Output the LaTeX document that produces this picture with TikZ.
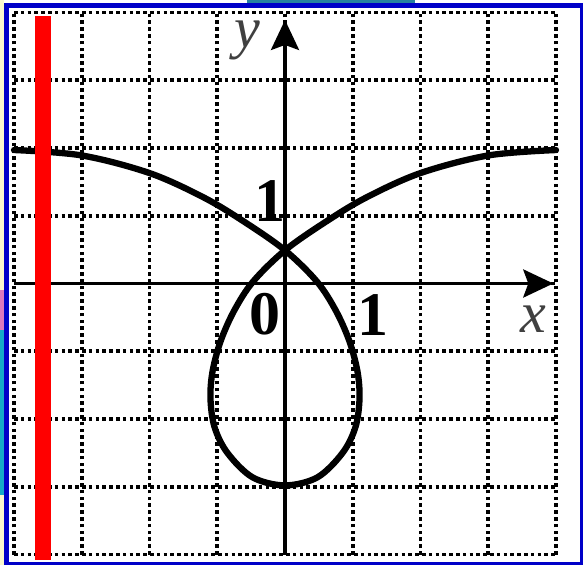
\documentclass[tikz,border=0pt]{standalone}
\usepackage{fontspec}
\setmainfont{Liberation Serif}
\usetikzlibrary{arrows.meta}
\definecolor{frameblue}{RGB}{0,0,200}
\definecolor{topteal}{RGB}{40,130,160}
\definecolor{paleyel}{RGB}{250,248,205}
\definecolor{pinkish}{RGB}{220,120,190}
\definecolor{cyanish}{RGB}{20,170,200}
\tikzset{
  gridline/.style={line width=3.6pt, dash pattern=on 3.6pt off 3.2pt},
  axisline/.style={line width=3.6pt, -{Stealth[length=30pt,width=28pt,inset=5pt]}},
  curveline/.style={line width=6.3pt, line join=round, line cap=round},
  digit/.style={inner sep=0pt, font=\fontsize{62}{62}\selectfont\bfseries},
  axlabel/.style={inner sep=0pt, text=black!75, font=\fontsize{58}{58}\selectfont\itshape}
}
\begin{document}
\begin{tikzpicture}[x=1pt,y=1pt]
\useasboundingbox (0,0) rectangle (583,565);
% outside strips
\fill[paleyel] (0,0) rectangle (4,565);
\fill[pinkish] (0,235) rectangle (4,275);
\fill[cyanish] (0,70) rectangle (4,235);
\fill[topteal] (247,561) rectangle (415,565);
% frame
\fill[frameblue] (4,0) rectangle (583,562);
\fill[white] (9,3) rectangle (580,557);
\begin{scope}[shift={(285pt,281.5pt)}, x=67.75pt, y=67.75pt]
  % grid
  \foreach \i in {-4,...,4} {
    \draw[gridline] (\i,-4) -- (\i,4);
    \draw[gridline] (-4,\i) -- (4,\i);
  }
  % axes
  \coordinate (xs) at (-4,0);
  \coordinate (xe) at (3.96,0);
  \coordinate (ys) at (0,-4);
  \coordinate (ye) at (0,3.89);
  \draw[axisline] (xs) -- (xe);
  \draw[axisline] (ys) -- (ye);
  % curve
  \draw[curveline] plot[smooth, tension=0.55] coordinates {
    (-4,1.97) (-3,1.89) (-2,1.63) (-1.2,1.27) (-0.6,0.91)
    (0,0.49) (0.47,0.03) (0.75,-0.4) (0.95,-0.85) (1.07,-1.3) (1.1,-1.7)
    (1.04,-2.12) (0.85,-2.5) (0.48,-2.86) (0,-2.98)
    (-0.48,-2.86) (-0.85,-2.5) (-1.04,-2.12) (-1.1,-1.7)
    (-1.07,-1.3) (-0.95,-0.85) (-0.75,-0.4) (-0.47,0.03)
    (0,0.49) (0.6,0.91) (1.2,1.27) (2,1.63) (3,1.89) (4,1.97)};
\end{scope}
% labels
\node[axlabel] (ylab) at (247,525) {y};
\node[axlabel] (xlab) at (533,246) {x};
\node[digit] (one y) at (270,364) {1};
\node[digit] (zero) at (265,251) {0};
\node[digit] (one x) at (373,250) {1};
% red bar
\fill[red] (35,5) rectangle (51,549);
\end{tikzpicture}
\end{document}
